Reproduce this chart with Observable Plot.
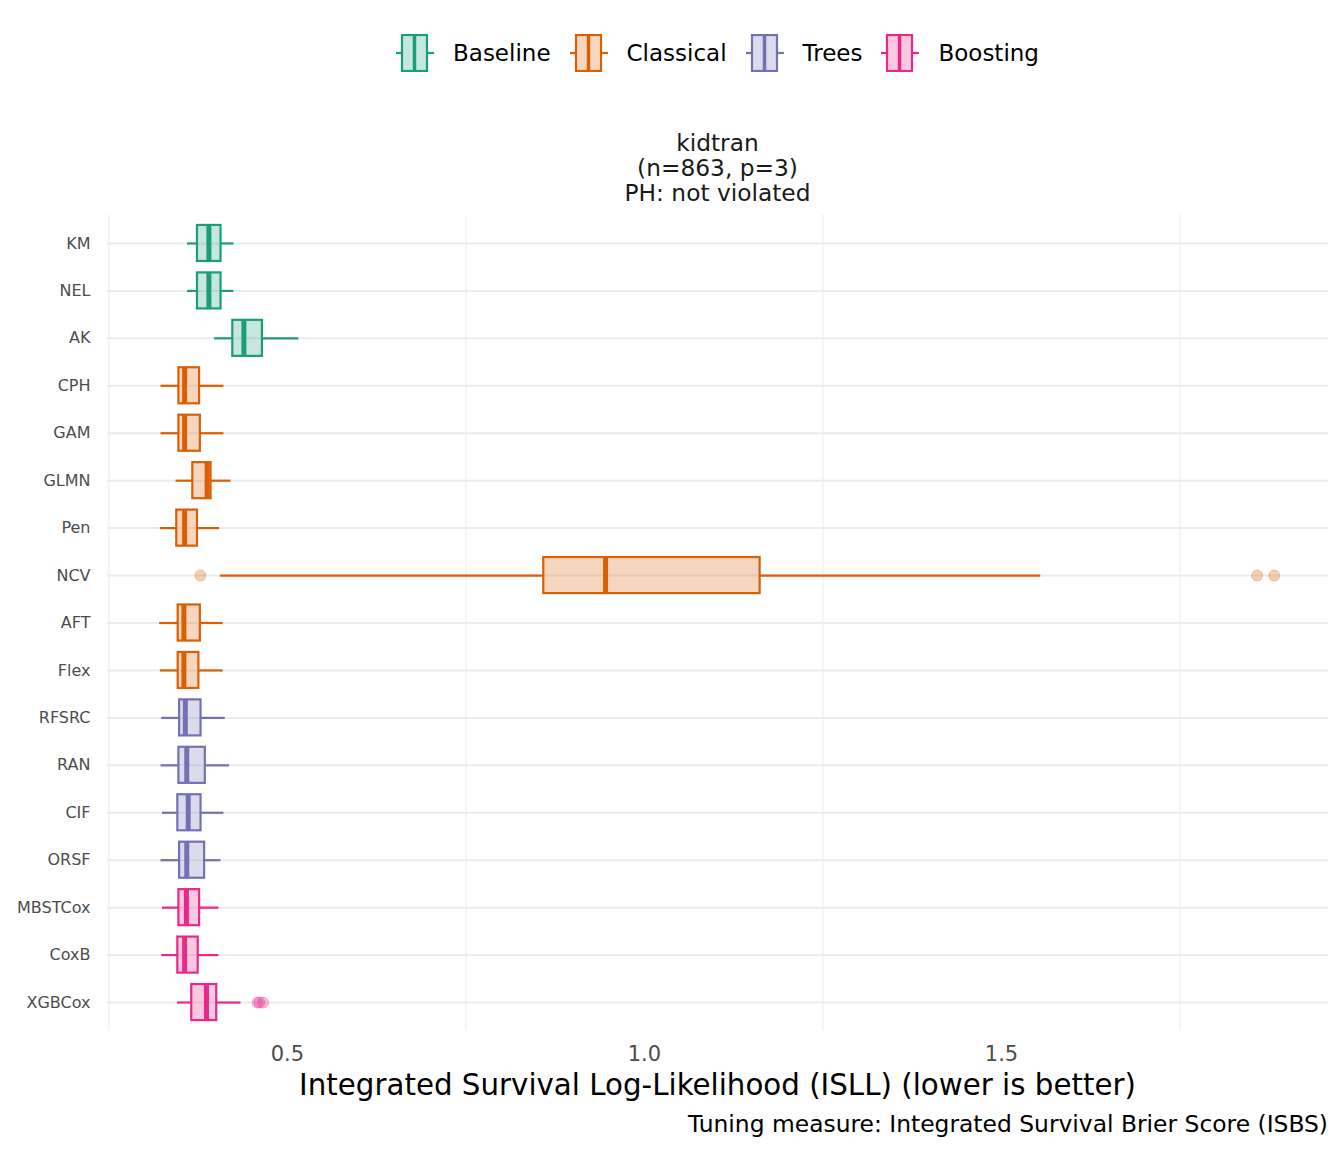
<!DOCTYPE html>
<html><head><meta charset="utf-8">
<script src="https://cdn.jsdelivr.net/npm/d3@7"></script>
<script src="https://cdn.jsdelivr.net/npm/@observablehq/plot@0.6"></script>
<style>
body{margin:0;background:#fff;font-family:"DejaVu Sans",sans-serif;}
#wrap{width:1344px;}
#legend{height:106px;display:flex;align-items:center;justify-content:center;margin-left:107px;width:1221px;font-size:23px;color:#000;}
.item{display:flex;align-items:center;margin:0 9.5px;}
.item svg{margin-right:19px;display:block;}
#strip{height:100px;box-sizing:border-box;padding-top:24px;margin-left:107px;width:1221px;text-align:center;font-size:23.3px;line-height:25px;color:#1a1a1a;}
#chart svg{display:block;}
#xtitle{margin-left:107px;width:1221px;text-align:center;font-size:29.3px;line-height:34px;height:34px;color:#000;}
#caption{width:1328px;text-align:right;font-size:23.4px;line-height:26px;margin-top:9px;color:#000;}
</style></head>
<body><div id="wrap">
<div id="legend"></div>
<div id="strip">kidtran<br>(n=863, p=3)<br>PH: not violated</div>
<div id="chart"></div>
<div id="xtitle">Integrated Survival Log-Likelihood (ISLL) (lower is better)</div>
<div id="caption">Tuning measure: Integrated Survival Brier Score (ISBS)</div>
</div>
<script>
const groups = ["Baseline", "Classical", "Trees", "Boosting"];
const colors = ["#1B9E77", "#D95F02", "#7570B3", "#E7298A"];
const models = ["KM","NEL","AK","CPH","GAM","GLMN","Pen","NCV","AFT","Flex","RFSRC","RAN","CIF","ORSF","MBSTCox","CoxB","XGBCox"];
const modelGroup = ["Baseline","Baseline","Baseline","Classical","Classical","Classical","Classical","Classical","Classical","Classical","Trees","Trees","Trees","Trees","Boosting","Boosting","Boosting"];
const whiskerLo = [0.360,0.360,0.398,0.323,0.323,0.344,0.322,0.406,0.321,0.322,0.324,0.323,0.325,0.323,0.325,0.324,0.346];
const q1 =        [0.374,0.374,0.4235,0.348,0.348,0.3675,0.345,0.859,0.347,0.347,0.349,0.348,0.3465,0.349,0.348,0.3465,0.366];
const median =    [0.390,0.390,0.439,0.356,0.356,0.3875,0.356,0.9455,0.355,0.355,0.357,0.359,0.361,0.359,0.3585,0.356,0.3866];
const q3 =        [0.407,0.407,0.465,0.377,0.378,0.393,0.374,1.162,0.378,0.376,0.379,0.385,0.379,0.384,0.377,0.375,0.401];
const whiskerHi = [0.425,0.425,0.516,0.411,0.411,0.421,0.405,1.555,0.410,0.410,0.413,0.419,0.411,0.407,0.404,0.404,0.435];
const outlierModel = ["NCV","NCV","NCV","XGBCox","XGBCox","XGBCox"];
const outlierValue = [0.378,1.858,1.882,0.458,0.461,0.466];
const xTicks = [0.5, 1.0, 1.5];
const minorGrid = [0.25, 0.75, 1.25, 1.75];

const table = models.map((m, i) => ({model: m, group: modelGroup[i], lo: whiskerLo[i], q1: q1[i], med: median[i], q3: q3[i], hi: whiskerHi[i]}));
const outliers = outlierModel.map((m, i) => ({model: m, group: modelGroup[models.indexOf(m)], value: outlierValue[i]}));

// legend
const legend = document.getElementById("legend");
groups.forEach((g, i) => {
  const c = colors[i];
  const item = document.createElement("div");
  item.className = "item";
  item.innerHTML = `<svg width="38" height="38" viewBox="0 0 38 38">
    <line x1="0" x2="6" y1="19" y2="19" stroke="${c}" stroke-width="2.2"/>
    <line x1="31" x2="38" y1="19" y2="19" stroke="${c}" stroke-width="2.2"/>
    <rect x="6" y="1" width="25" height="36" fill="${c}" fill-opacity="0.25" stroke="${c}" stroke-width="2.2"/>
    <line x1="18.5" x2="18.5" y1="1" y2="37" stroke="${c}" stroke-width="3.5"/>
  </svg><span>${g}</span>`;
  legend.appendChild(item);
});

const chart = Plot.plot({
  width: 1344, height: 862,
  marginTop: 8.5, marginBottom: 37.5, marginLeft: 107, marginRight: 16,
  style: {fontFamily: "DejaVu Sans", background: "white", color: "#4d4d4d", overflow: "visible"},
  x: {domain: [0.248, 1.958], label: null},
  y: {domain: models, paddingInner: 0.24, paddingOuter: 0.22, round: false, label: null},
  color: {domain: groups, range: colors},
  marks: [
    Plot.ruleX(minorGrid, {x: d => d, stroke: "#ebebeb", strokeWidth: 1}),
    Plot.ruleY(models, {y: d => d, stroke: "#ebebeb", strokeWidth: 2}),
    Plot.axisX({ticks: xTicks, tickSize: 0, tickPadding: 15, fontSize: 21, tickFormat: d3.format(".1f"), label: null}),
    Plot.axisY({tickSize: 0, tickPadding: 17, fontSize: 16, label: null}),
    Plot.ruleY(table, {y: "model", x1: "lo", x2: "q1", stroke: "group", strokeWidth: 2.2}),
    Plot.ruleY(table, {y: "model", x1: "q3", x2: "hi", stroke: "group", strokeWidth: 2.2}),
    Plot.barX(table, {y: "model", x1: "q1", x2: "q3", fill: "group", fillOpacity: 0.25, stroke: "group", strokeWidth: 2.2}),
    Plot.tickX(table, {y: "model", x: "med", stroke: "group", strokeWidth: 5}),
    Plot.dot(outliers, {y: "model", x: "value", r: 5.5, fill: "group", fillOpacity: 0.3, stroke: "group", strokeOpacity: 0.3, strokeWidth: 1})
  ]
});
document.getElementById("chart").appendChild(chart);
</script>
</body></html>
